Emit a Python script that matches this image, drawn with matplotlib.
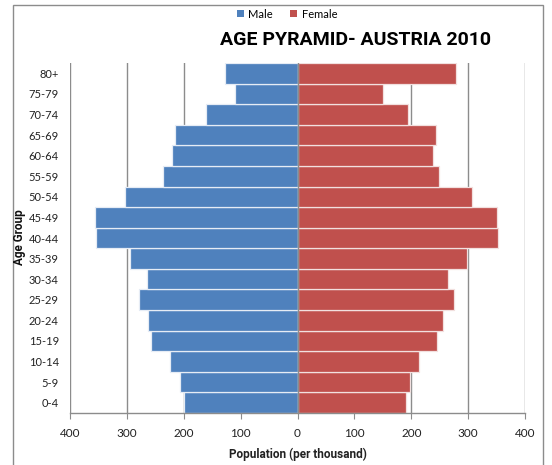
import matplotlib
matplotlib.use("Agg")
import matplotlib.pyplot as plt
from matplotlib.patches import Rectangle, Patch

age_groups = ["0-4", "5-9", "10-14", "15-19", "20-24", "25-29", "30-34", "35-39",
              "40-44", "45-49", "50-54", "55-59", "60-64", "65-69", "70-74", "75-79", "80+"]
male = [200, 207, 224, 257, 262, 278, 264, 294, 354, 356, 304, 237, 221, 216, 161, 110, 128]
female = [190, 198, 213, 246, 256, 275, 264, 298, 352, 350, 306, 248, 238, 244, 194, 151, 278]
xticks = [-400, -300, -200, -100, 0, 100, 200, 300, 400]
xticklabels = ["400", "300", "200", "100", "0", "100", "200", "300", "400"]

plt.rcParams['font.family'] = ['Lato', 'DejaVu Sans']

W, H = 552, 465
fig = plt.figure(figsize=(W / 100, H / 100), dpi=100)
ax = fig.add_axes([70 / W, 1 - 413 / H, 455 / W, 350 / H])

blue = "#4F81BD"
red = "#C0504D"
ypos = list(range(len(age_groups)))

for x in xticks:
    if x != 0:
        ax.axvline(x, color="#8C8C8C", lw=1, zorder=0)

ax.barh(ypos, [-m for m in male], height=1.0, color=blue, edgecolor="#E6ECF5",
        linewidth=0.9, zorder=2)
ax.barh(ypos, female, height=1.0, color=red, edgecolor="#F2E0DF",
        linewidth=0.9, zorder=2)
ax.axvline(0, color="#8C8C8C", lw=1, zorder=3)

ax.set_xlim(-400, 400)
ax.set_ylim(-0.5, len(age_groups) - 0.5)
ax.set_xticks(xticks)
ax.set_xticklabels(xticklabels, fontsize=8.5, color="#222222")
ax.set_yticks(ypos)
ax.set_yticklabels(age_groups, fontsize=8, color="#222222")
ax.tick_params(axis="y", length=0, pad=8)
ax.tick_params(axis="x", direction="out", length=4, color="#8C8C8C", pad=7)
for s in ["top", "right", "left"]:
    ax.spines[s].set_visible(False)
ax.spines["bottom"].set_color("#8C8C8C")
ax.spines["bottom"].set_linewidth(1)

ax.set_xlabel("Population (per thousand)", fontsize=8.5, fontweight="bold",
              color="#222222", labelpad=6, family=["Roboto", "DejaVu Sans"])
fig.text(20 / W, 1 - 237 / H, "Age Group", rotation=90, fontsize=8.5,
         fontweight="bold", ha="center", va="center", color="#111111",
         family=["Roboto", "DejaVu Sans"])

fig.text(355 / W, 1 - 40 / H, "AGE PYRAMID- AUSTRIA 2010", fontsize=14,
         fontweight="bold", ha="center", va="center", color="black",
         family=["Roboto", "DejaVu Sans"])

handles = [Patch(facecolor=blue, label="Male"), Patch(facecolor=red, label="Female")]
fig.legend(handles=handles, loc="center", bbox_to_anchor=(287 / W, 1 - 14 / H),
           ncol=2, frameon=False, fontsize=8, handlelength=0.6, handleheight=0.6,
           handletextpad=0.4, columnspacing=1.6, borderaxespad=0)

border = Rectangle((12.5 / W, -0.05), 530 / W, 1.05 - 5 / H, transform=fig.transFigure,
                   fill=False, edgecolor="#8C8C8C", lw=1, clip_on=False)
fig.patches.append(border)

fig.savefig("out.png", dpi=100)
